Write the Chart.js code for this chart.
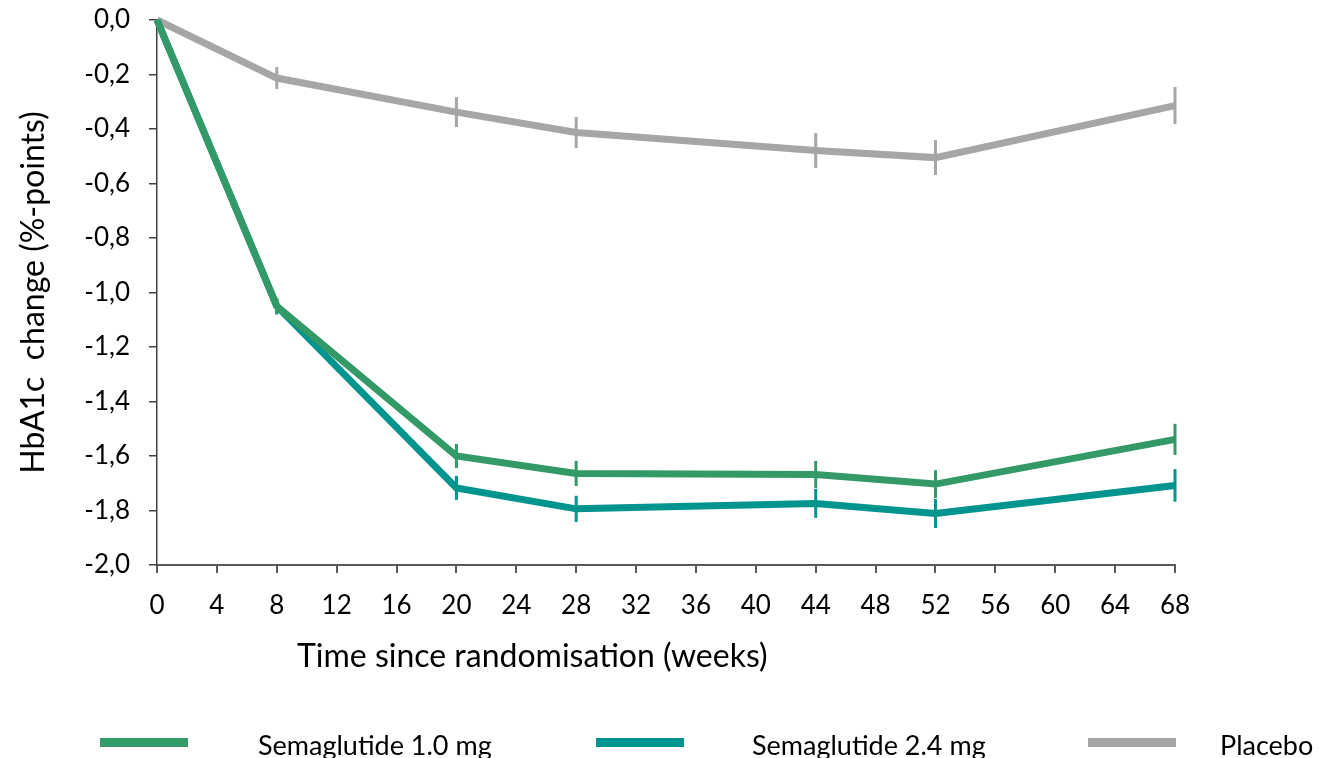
<!DOCTYPE html>
<html>
<head>
<meta charset="utf-8">
<script src="https://cdn.jsdelivr.net/npm/chart.js@4.4.1/dist/chart.umd.min.js"></script>
<style>
  html, body { margin: 0; padding: 0; background: #fff; }
  #wrap { position: relative; width: 1340px; height: 758px; overflow: hidden; font-family: Lato, "Open Sans", sans-serif; color: #000; }
  #chart { position: absolute; left: 0; top: 0; }
  #xtitle { position: absolute; left: 297px; top: 636px; font-size: 32px; line-height: 38px; white-space: pre; }
  .swatch { position: absolute; top: 738px; width: 88px; height: 9px; }
  .legtext { position: absolute; top: 729px; font-size: 27px; line-height: 32px; white-space: pre; }
</style>
</head>
<body>
<div id="wrap">
  <canvas id="chart" width="1340" height="758"></canvas>
  <div id="xtitle"></div>
  <div id="legend"></div>
</div>
<script>
/* ================= DATA ================= */
const weeks = [0, 8, 20, 28, 44, 52, 68];

const sema10 = [0, -1.05, -1.60, -1.664, -1.668, -1.703, -1.539];
const sema24 = [0, -1.05, -1.717, -1.794, -1.774, -1.811, -1.708];
const placebo = [0, -0.213, -0.338, -0.413, -0.479, -0.505, -0.314];

// half-length of the error bars (%-points)
const sema10Err = [0, 0.03, 0.044, 0.046, 0.05, 0.051, 0.057];
const sema24Err = [0, 0.03, 0.044, 0.048, 0.053, 0.053, 0.06];
const placeboErr = [0, 0.04, 0.055, 0.057, 0.064, 0.064, 0.068];

const seriesNames = ["Semaglutide 1.0 mg", "Semaglutide 2.4 mg", "Placebo"];
const seriesColors = ["#339966", "#00948f", "#a6a6a6"];

const xTitle = "Time since randomisation (weeks)";
const yTitle = "HbA1c  change (%-points)";

/* ================= HELPERS ================= */
function points(values) {
  return weeks.map((w, i) => ({ x: w, y: values[i] }));
}

function comma(v) {
  return v.toFixed(1).replace(".", ",");
}

/* ================= ERROR BARS ================= */
const errorBars = {
  id: "errorBars",
  afterDatasetDraw(chart, args) {
    const ds = chart.data.datasets[args.index];
    const y = chart.scales.y;
    const ctx = chart.ctx;
    ctx.save();
    ctx.strokeStyle = ds.borderColor;
    ctx.lineWidth = 3;
    args.meta.data.forEach((pt, i) => {
      const e = ds.errors[i];
      if (!e) return;
      const v = ds.data[i].y;
      ctx.beginPath();
      ctx.moveTo(pt.x, y.getPixelForValue(v + e));
      ctx.lineTo(pt.x, y.getPixelForValue(v - e));
      ctx.stroke();
    });
    ctx.restore();
  }
};

/* ================= CHART ================= */
const allValues = [sema10, sema24, placebo];
const allErrors = [sema10Err, sema24Err, placeboErr];

const datasets = seriesNames.map((name, i) => ({
  label: name,
  data: points(allValues[i]),
  errors: allErrors[i],
  borderColor: seriesColors[i],
  backgroundColor: seriesColors[i],
  borderWidth: 7,
  pointRadius: 0,
  tension: 0,
  clip: false
}));

const tickFont = { family: "Lato, 'Open Sans', sans-serif", size: 26 };
const titleFont = { family: "Lato, 'Open Sans', sans-serif", size: 32 };

new Chart(document.getElementById("chart"), {
  type: "line",
  data: { datasets },
  plugins: [errorBars],
  options: {
    responsive: false,
    animation: false,
    layout: { padding: { left: 0, right: 165, top: 20, bottom: 133 } },
    plugins: { legend: { display: false }, tooltip: { enabled: false } },
    scales: {
      x: {
        type: "linear",
        min: 0,
        max: 68,
        afterFit: s => { s.height = 60; s.paddingLeft = 0; s.paddingRight = 0; },
        ticks: { stepSize: 4, color: "#000", font: tickFont, padding: 17, maxRotation: 0 },
        grid: { drawOnChartArea: false, tickLength: 8, color: "#595959", lineWidth: 2 },
        border: { color: "#595959", width: 2 }
      },
      y: {
        min: -2,
        max: 0,
        afterFit: s => { s.width = 157; s.paddingTop = 0; s.paddingBottom = 0; },
        ticks: { stepSize: 0.2, color: "#000", font: tickFont, padding: 19, callback: v => comma(v) },
        grid: { drawOnChartArea: false, tickLength: 8, color: "#404040", lineWidth: 1.5 },
        border: { color: "#404040", width: 1.5 },
        title: { display: true, text: yTitle, color: "#000", font: titleFont, padding: { top: 14, bottom: 0 } }
      }
    }
  }
});

/* ================= HTML TEXT ================= */
document.getElementById("xtitle").textContent = xTitle;

const legendPos = [[100, 258], [596, 752], [1088, 1220]];
const legend = document.getElementById("legend");
seriesNames.forEach((name, i) => {
  const sw = document.createElement("div");
  sw.className = "swatch";
  sw.style.left = legendPos[i][0] + "px";
  sw.style.background = seriesColors[i];
  legend.appendChild(sw);

  const tx = document.createElement("div");
  tx.className = "legtext";
  tx.style.left = legendPos[i][1] + "px";
  tx.textContent = name;
  legend.appendChild(tx);
});
</script>
</body>
</html>
